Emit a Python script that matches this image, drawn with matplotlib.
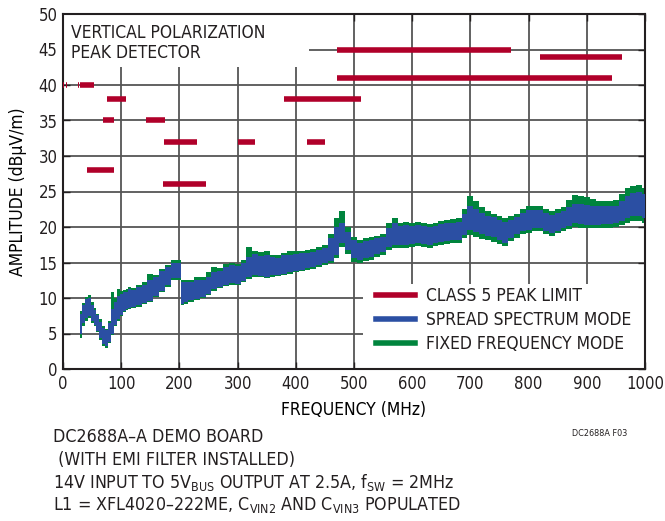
import matplotlib
matplotlib.use("Agg")
import matplotlib.pyplot as plt
from matplotlib.patches import Rectangle
from matplotlib.lines import Line2D

# ── data ────────────────────────────────────────────────────────────── #
freq = [30, 35, 40, 45, 50, 55, 60, 65, 70, 75, 80, 85, 90, 95, 100, 105,
        110, 115, 120, 130, 140, 150, 160, 170, 180, 190, 200, 205, 210,
        220, 230, 240, 250, 260, 270, 280, 290, 300, 310, 320, 330, 340,
        350, 360, 370, 380, 390, 400, 410, 420, 430, 440, 450, 460, 470,
        480, 490, 500, 510, 520, 530, 540, 550, 560, 570, 580, 590, 600,
        610, 620, 630, 640, 650, 660, 670, 680, 690, 700, 710, 720, 730,
        740, 750, 760, 770, 780, 790, 800, 810, 820, 830, 840, 850, 860,
        870, 880, 890, 900, 910, 920, 930, 940, 950, 960, 970, 980, 990,
        1000]

spread_hi = [7.8, 9.0, 9.8, 10.0, 9.0, 8.3, 7.6, 6.6, 5.8, 5.5, 6.5, 8.4,
             9.5, 10.3, 10.6, 10.8, 10.9, 11.2, 11.1, 11.6, 11.8, 12.6, 13.0,
             13.8, 14.3, 15.0, 15.0, 12.3, 12.3, 12.2, 12.6, 12.5, 13.0, 13.6,
             13.8, 14.4, 14.6, 14.5, 15.0, 15.8, 16.2, 15.9, 16.1, 15.8, 15.6,
             16.0, 16.1, 16.2, 16.3, 16.3, 16.5, 16.8, 17.0, 18.5, 20.0, 20.6,
             19.3, 18.2, 17.8, 18.0, 18.1, 18.4, 18.6, 19.8, 20.5, 20.2, 20.3,
             20.1, 20.3, 20.1, 20.0, 20.2, 20.4, 20.5, 20.6, 20.7, 21.8, 23.0,
             22.6, 22.0, 21.6, 21.4, 21.0, 20.7, 21.0, 21.4, 22.0, 22.4, 22.4,
             22.4, 22.0, 21.7, 22.0, 22.2, 22.8, 23.3, 23.2, 23.1, 23.0, 22.9,
             22.9, 22.9, 22.9, 23.6, 24.3, 24.8, 25.0, 24.6]
spread_lo = [5.0, 6.5, 7.2, 7.5, 6.8, 6.2, 5.4, 4.3, 3.5, 3.2, 3.8, 5.0,
             6.2, 7.0, 7.6, 8.2, 8.5, 8.6, 8.8, 9.0, 9.3, 9.6, 10.3, 11.0,
             11.8, 12.8, 12.8, 9.2, 9.4, 9.7, 9.9, 10.2, 10.6, 11.2, 11.6,
             11.9, 12.1, 12.0, 12.4, 12.9, 13.2, 13.1, 13.0, 13.2, 13.3, 13.4,
             13.6, 13.8, 14.0, 14.2, 14.3, 14.6, 14.9, 15.2, 16.0, 17.8, 16.8,
             15.6, 15.3, 15.6, 15.8, 16.2, 16.5, 17.2, 17.5, 17.5, 17.5, 17.6,
             17.7, 17.6, 17.5, 17.7, 17.9, 18.0, 18.1, 18.2, 18.9, 19.6, 19.3,
             19.0, 18.8, 18.6, 18.2, 17.8, 18.5, 19.0, 19.4, 19.6, 19.8, 19.8,
             19.4, 19.1, 19.5, 19.8, 20.1, 20.5, 20.4, 20.3, 20.3, 20.3, 20.4,
             20.4, 20.5, 20.8, 21.2, 21.5, 21.6, 21.2]

fixed_hi = [8.2, 9.3, 10.2, 10.4, 9.4, 8.6, 7.8, 7.0, 6.0, 5.7, 6.8, 10.9,
            10.0, 11.3, 11.0, 11.1, 11.2, 11.5, 11.4, 11.9, 12.2, 13.4, 13.3,
            14.1, 14.6, 15.4, 15.3, 12.6, 12.6, 12.6, 12.9, 12.9, 13.6, 14.3,
            14.2, 14.8, 15.0, 14.8, 15.4, 17.2, 16.6, 16.5, 16.6, 16.1, 16.0,
            16.4, 16.6, 16.6, 16.6, 16.7, 16.9, 17.2, 17.4, 19.0, 21.2, 22.2,
            20.0, 18.6, 18.2, 18.4, 18.6, 18.8, 19.0, 20.6, 21.2, 20.6, 20.7,
            20.5, 20.7, 20.5, 20.4, 20.6, 20.9, 21.0, 21.1, 21.3, 22.6, 24.4,
            23.6, 22.8, 22.2, 21.9, 21.5, 21.2, 21.5, 21.9, 22.6, 23.0, 22.9,
            22.9, 22.5, 22.2, 22.5, 22.8, 23.8, 24.5, 24.3, 24.2, 23.9, 23.7,
            23.6, 23.7, 23.8, 24.6, 25.5, 25.8, 25.9, 25.5]
fixed_lo = [4.4, 6.0, 6.8, 7.2, 6.5, 6.0, 5.2, 4.1, 3.3, 2.9, 3.6, 4.8,
            6.0, 6.8, 7.4, 8.0, 8.3, 8.4, 8.6, 8.8, 9.1, 9.4, 10.1, 10.8,
            11.6, 12.6, 12.6, 9.0, 9.2, 9.5, 9.7, 10.0, 10.4, 11.0, 11.4,
            11.7, 11.9, 11.8, 12.2, 12.7, 13.0, 12.9, 12.8, 13.0, 13.1, 13.2,
            13.4, 13.6, 13.8, 14.0, 14.1, 14.4, 14.7, 15.0, 15.6, 17.2, 16.2,
            15.1, 14.9, 15.2, 15.4, 15.8, 16.1, 16.8, 17.1, 17.1, 17.1, 17.2,
            17.3, 17.2, 17.1, 17.3, 17.5, 17.6, 17.7, 17.8, 18.5, 18.9, 18.6,
            18.3, 18.1, 17.9, 17.6, 17.3, 18.0, 18.5, 19.0, 19.2, 19.4, 19.4,
            19.0, 18.7, 19.1, 19.4, 19.7, 20.0, 19.9, 19.8, 19.8, 19.8, 19.9,
            19.9, 20.0, 20.3, 20.6, 20.8, 20.8, 20.6]

# CISPR 25 class 5 peak limit segments: (start MHz, stop MHz, level dBuV/m)
limit_start = [0.15, 5.9, 26, 30, 41, 68, 76, 142, 171, 174, 300, 380, 420,
               470, 470, 820]
limit_stop = [1.8, 6.2, 28, 54, 88, 87, 108, 175, 245, 230, 330, 512, 450,
              770, 944, 960]
limit_level = [40, 40, 40, 40, 28, 35, 38, 35, 26, 32, 32, 38, 32, 45, 41, 44]

legend_labels = ["CLASS 5 PEAK LIMIT", "SPREAD SPECTRUM MODE",
                 "FIXED FREQUENCY MODE"]
notes = ["DC2688A\u2013A DEMO BOARD",
         " (WITH EMI FILTER INSTALLED)",
         "14V INPUT TO 5V$_{\\mathrm{BUS}}$ OUTPUT AT 2.5A, f$_{\\mathrm{SW}}$ = 2MHz",
         "L1 = XFL4020\u2013222ME, C$_{\\mathrm{VIN2}}$ AND C$_{\\mathrm{VIN3}}$ POPULATED"]

# ── style ───────────────────────────────────────────────────────────── #
RED = "#b0002a"
BLUE = "#2b4fa3"
GREEN = "#00843d"
TXT = "#231f20"

plt.rcParams["font.family"] = ["DejaVu Sans"]
plt.rcParams["font.stretch"] = "condensed"
plt.rcParams["mathtext.fontset"] = "custom"
plt.rcParams["mathtext.rm"] = "DejaVu Sans:stretch=condensed"
plt.rcParams["text.color"] = TXT

fig = plt.figure(figsize=(6.65, 5.21), dpi=100)
ax = fig.add_axes([63 / 665, 1 - 369 / 521, 582 / 665, 355 / 521])

ax.set_xlim(0, 1000)
ax.set_ylim(0, 50)
ax.set_xticks(range(0, 1001, 100))
ax.set_yticks(range(0, 51, 5))
ax.grid(True, color="#555555", linewidth=1.3)
ax.set_axisbelow(True)
ax.tick_params(direction="in", length=5, width=1, top=True, right=True,
               labelsize=12, colors=TXT, pad=4)
for s in ax.spines.values():
    s.set_linewidth(1.5)
    s.set_color(TXT)

# white boxes that hide the grid under the title and the legend
ax.add_patch(Rectangle((0, 42.6), 423, 7.4, facecolor="white",
                       edgecolor="none", zorder=1))
ax.add_patch(Rectangle((515, 0), 485, 12.0, facecolor="white",
                       edgecolor="none", zorder=1))

ax.fill_between(freq, fixed_lo, fixed_hi, step="mid", color=GREEN,
                linewidth=0, zorder=2)
ax.fill_between(freq, spread_lo, spread_hi, step="mid", color=BLUE,
                linewidth=0, zorder=3)

ax.hlines(limit_level, limit_start, limit_stop, colors=RED, linewidth=4,
          zorder=4)

ax.text(14, 48.6, "VERTICAL POLARIZATION\nPEAK DETECTOR", fontsize=12.5,
        va="top", ha="left", linespacing=1.15, zorder=5)

handles = [Line2D([], [], color=c, linewidth=4) for c in (RED, BLUE, GREEN)]
ax.legend(handles, legend_labels, loc="lower right", frameon=False,
          fontsize=12.5, handlelength=2.3, handletextpad=0.6,
          labelspacing=0.35, bbox_to_anchor=(1.0, 0.005), borderpad=0.3)

ax.set_xlabel("FREQUENCY (MHz)", fontsize=12.5, labelpad=6)
ax.set_ylabel("AMPLITUDE (dB\u03bcV/m)", fontsize=12.5, labelpad=8)

for i, line in enumerate(notes):
    fig.text(53 / 665, 1 - (437 + 22.7 * i) / 521, line, fontsize=12.8,
             va="center", ha="left")
fig.text(600 / 665, 1 - 433 / 521, "DC2688A F03", fontsize=6.5,
         va="center", ha="center")

fig.savefig("out.png", dpi=100)
